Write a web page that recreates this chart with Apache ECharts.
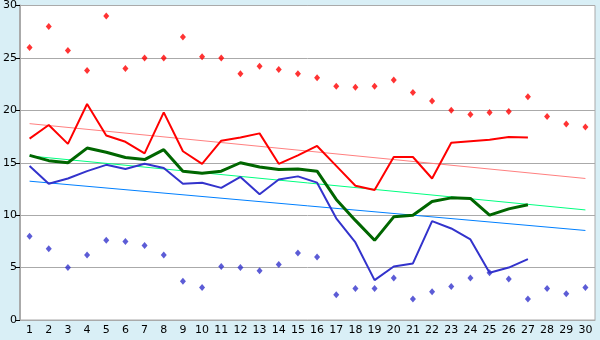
<!DOCTYPE html>
<html><head><meta charset="utf-8">
<script src="https://cdn.jsdelivr.net/npm/echarts@6/dist/echarts.min.js"></script>
<style>html,body{margin:0;padding:0;background:#d9eff6}#c{width:600px;height:340px}</style>
</head><body><div id="c"></div>
<script>
var days = ['1','2','3','4','5','6','7','8','9','10','11','12','13','14','15','16','17','18','19','20','21','22','23','24','25','26','27','28','29','30'];
var yTicks = [0,5,10,15,20,25,30];
var absMax = [26,28,25.7,23.8,29,24,25,25,27,25.1,25,23.5,24.2,23.9,23.5,23.1,22.3,22.2,22.3,22.9,21.7,20.9,20.0,19.6,19.8,19.9,21.3,19.4,18.7,18.4];
var absMin = [8.0,6.8,5.0,6.2,7.6,7.5,7.1,6.2,3.7,3.1,5.1,5.0,4.7,5.3,6.4,6.0,2.4,3.0,3.0,4.0,2.0,2.7,3.2,4.0,4.5,3.9,2.0,3.0,2.5,3.1];
var maxTemp = [17.3,18.6,16.8,20.6,17.6,17.0,15.9,19.8,16.1,14.9,17.1,17.4,17.8,14.9,15.7,16.6,14.7,12.8,12.4,15.55,15.55,13.5,16.9,17.05,17.2,17.45,17.4];
var meanTemp = [15.7,15.2,15.0,16.4,16.0,15.5,15.3,16.25,14.2,14.0,14.2,15.0,14.6,14.35,14.4,14.2,11.5,9.5,7.6,9.84,10.0,11.3,11.65,11.6,10.0,10.6,11.0];
var minTemp = [14.7,13.0,13.5,14.2,14.8,14.4,14.9,14.5,13.0,13.1,12.6,13.65,12.0,13.4,13.7,13.1,9.7,7.4,3.8,5.1,5.4,9.43,8.73,7.68,4.5,5.0,5.8];
var trendMax = [18.73, 13.5];
var trendMean = [15.65, 10.5];
var trendMin = [13.24, 8.54];

function trend(v){ return [[0, v[0]], [days.length-1, v[1]]]; }

var chart = echarts.init(document.getElementById('c'), null, {renderer:'canvas'});
var font = 'DejaVu Sans';
chart.setOption({
  backgroundColor: '#d9eff6',
  animation: false,
  grid: {left: 20, right: 5, top: 5, bottom: 20, show: true, backgroundColor: '#ffffff', borderColor: '#aaaaaa', borderWidth: 1},
  xAxis: {
    type: 'category', data: days, boundaryGap: true,
    axisLine: {lineStyle: {color: '#aaaaaa', width: 1}},
    axisTick: {alignWithLabel: true, length: 4, lineStyle: {color: '#000'}},
    axisLabel: {color: '#000', fontFamily: font, fontSize: 11, margin: 5, interval: 0},
    splitLine: {show: false}
  },
  yAxis: {
    type: 'value', min: yTicks[0], max: yTicks[yTicks.length-1], interval: 5,
    axisLine: {show: true, lineStyle: {color: '#aaaaaa', width: 2}},
    axisTick: {show: true, length: 4, lineStyle: {color: '#000'}},
    axisLabel: {color: '#000', fontFamily: font, fontSize: 11, margin: 3},
    splitLine: {lineStyle: {color: '#aaaaaa', width: 1}}
  },
  series: [
    {type:'line', data: trend(trendMax), symbol:'none', lineStyle:{color:'#ff8080', width:1}, z:1},
    {type:'line', data: trend(trendMean), symbol:'none', lineStyle:{color:'#00ff80', width:1}, z:1},
    {type:'line', data: trend(trendMin), symbol:'none', lineStyle:{color:'#0080ff', width:1}, z:1},
    {type:'line', data: maxTemp, symbol:'none', lineStyle:{color:'#ff0000', width:2}, z:3},
    {type:'line', data: meanTemp, symbol:'none', lineStyle:{color:'#006600', width:3}, z:3},
    {type:'line', data: minTemp, symbol:'none', lineStyle:{color:'#3333cc', width:2}, z:3},
    {type:'scatter', data: absMax, symbol:'diamond', symbolSize:[6,7], itemStyle:{color:'#ff0000'}, z:4},
    {type:'scatter', data: absMin, symbol:'diamond', symbolSize:[6,7], itemStyle:{color:'#3333cc'}, z:4}
  ]
});
</script></body></html>
